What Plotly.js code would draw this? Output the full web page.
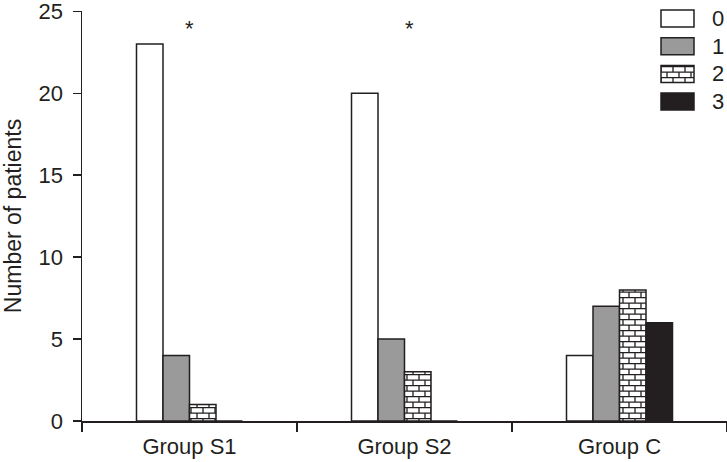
<!DOCTYPE html>
<html>
<head>
<meta charset="utf-8">
<script src="https://cdn.plot.ly/plotly-3.0.1.min.js"></script>
<style>html,body{margin:0;padding:0;background:#fff;}#chart{width:727px;height:462px;}</style>
</head>
<body>
<div id="chart"></div>
<script>
// ---- data ----
const groups = ["Group S1", "Group S2", "Group C"];
const seriesNames = ["0", "1", "2", "3"];
const score0 = [23, 20, 4];
const score1 = [4, 5, 7];
const score2 = [1, 3, 8];
const score3 = [0, 0, 6];
const significant = ["Group S1", "Group S2"];
const starLevel = 23.95;
const yTicks = [0, 5, 10, 15, 20, 25];

// ---- styling ----
const ink = "#231f20";
const fills = ["#ffffff", "#9a9a9a", "#ffffff", "#231f20"];
const values = [score0, score1, score2, score3];

const W = 727, H = 462, ML = 82, MR = 0, MT = 11, MB = 41;
const px = x => (x - ML) / (W - ML - MR);
const py = y => (H - MB - y) / (H - MT - MB);

const traces = seriesNames.map((n, i) => ({
  type: "bar", name: n, x: groups, y: values[i],
  marker: {color: fills[i], line: {color: ink, width: 1.5}},
  showlegend: false, hoverinfo: "skip"
}));

const shapes = [], annotations = [];
seriesNames.forEach((n, i) => {
  const top = 10 + i * 27.7;
  shapes.push({type: "rect", xref: "paper", yref: "paper",
    x0: px(661), x1: px(694), y0: py(top + 17), y1: py(top),
    fillcolor: fills[i], line: {color: ink, width: 1.5}, layer: "above", name: "leg" + i});
  annotations.push({xref: "paper", yref: "paper", x: px(718), y: py(top + 8.5),
    text: n, showarrow: false, xanchor: "center", yanchor: "middle",
    font: {size: 22, color: ink}});
});
significant.forEach((g, k) => annotations.push({x: g, y: starLevel, xref: "x", yref: "y",
  text: "*", showarrow: false, yanchor: "middle", xshift: k === 1 ? 5 : 0,
  font: {size: 22, color: ink}}));

const layout = {
  width: W, height: H,
  margin: {l: ML, r: MR, t: MT, b: MB},
  paper_bgcolor: "#fff", plot_bgcolor: "#fff",
  font: {family: "Liberation Sans, Arial, sans-serif", color: ink, size: 22},
  barmode: "group", bargap: 0.507, bargroupgap: 0,
  xaxis: {type: "category", showline: true, linecolor: ink, linewidth: 1.5,
    ticks: "outside", tickson: "boundaries", ticklen: 9, tickwidth: 1.5, tickcolor: ink,
    ticklabelstandoff: 5,
    showgrid: false, zeroline: false, tickfont: {size: 22}},
  yaxis: {range: [0, 25.02], tickvals: yTicks, showline: true, linecolor: ink, linewidth: 1.5,
    ticks: "outside", ticklen: 8, tickwidth: 1.5, tickcolor: ink,
    ticklabeloverflow: "allow", ticklabelstandoff: 5,
    showgrid: false, zeroline: false, tickfont: {size: 22},
    title: {text: "Number of patients", font: {size: 23}, standoff: 10}},
  shapes: shapes, annotations: annotations, showlegend: false
};

Plotly.newPlot("chart", traces, layout, {staticPlot: true}).then(gd => {
  const svg = gd.querySelector("svg.main-svg");
  const ns = "http://www.w3.org/2000/svg";
  let defs = svg.querySelector("defs");
  if (!defs) { defs = document.createElementNS(ns, "defs"); svg.insertBefore(defs, svg.firstChild); }
  const pat = document.createElementNS(ns, "pattern");
  pat.setAttribute("id", "brick"); pat.setAttribute("patternUnits", "userSpaceOnUse");
  pat.setAttribute("width", "12"); pat.setAttribute("height", "11");
  pat.innerHTML = '<rect width="12" height="11" fill="#fff"/>' +
    '<path d="M0,0.6H12M0,6.1H12M1,0V5.5M7,5.5V11" stroke="' + ink + '" stroke-width="1.3" fill="none"/>';
  defs.appendChild(pat);
  const tr = gd.querySelectorAll(".barlayer .trace")[2];
  tr.querySelectorAll("path").forEach(p => p.style.fill = "url(#brick)");
  const legShapes = gd.querySelectorAll(".layer-above .shapelayer path");
  if (legShapes[2]) legShapes[2].style.fill = "url(#brick)";
});
</script>
</body>
</html>
